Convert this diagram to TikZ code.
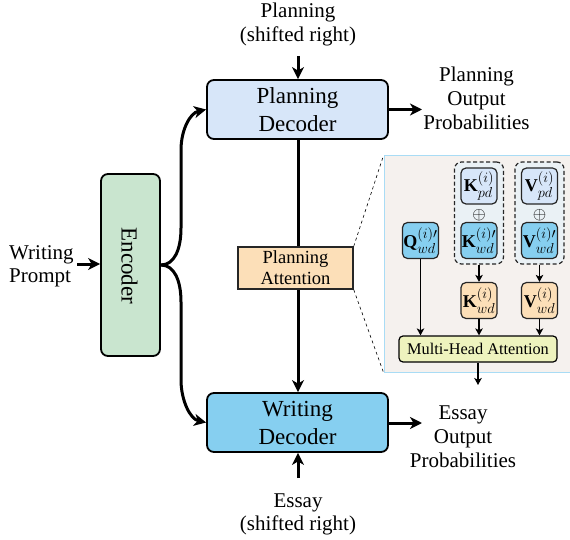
\documentclass[tikz,border=0pt]{standalone}
\usepackage{fontspec}
\setmainfont{Liberation Serif}
\usetikzlibrary{arrows.meta}
\DeclareMathSizes{18}{18}{14}{11}
\definecolor{pdc}{HTML}{D7E6F9}
\definecolor{wdc}{HTML}{86CFF0}
\definecolor{enc}{HTML}{C9E5CF}
\definecolor{atc}{HTML}{FCDFB8}
\definecolor{mhc}{HTML}{EEF3BE}
\definecolor{insc}{HTML}{F5F1EE}
\definecolor{insb}{HTML}{A9DCF5}
\definecolor{grpc}{HTML}{EAF1F5}
\tikzset{
 x=1pt,y=-1pt,
 big/.style={draw=black,line width=1.8pt,rounded corners=7pt,minimum width=181pt,minimum height=59pt,inner sep=0pt,align=center,font=\fontsize{23}{28}\selectfont},
 lbl/.style={align=center,inner sep=0pt,font=\fontsize{21}{24}\selectfont},
 small/.style={draw=black!85,line width=1.2pt,rounded corners=5pt,minimum width=36pt,minimum height=36pt,inner sep=0pt,font=\fontsize{18}{20}\selectfont},
 grp/.style={draw=black!85,dash pattern=on 4pt off 2.5pt,line width=1.2pt,rounded corners=7pt,fill=grpc,minimum width=49pt,minimum height=102pt,inner sep=0pt},
 thick arr/.style={line width=3pt,-{Stealth[length=12pt,width=12pt,inset=3.5pt]}},
 thin arr/.style={line width=1.3pt,-{Stealth[length=7pt,width=7.5pt,inset=1.8pt]}},
}
\begin{document}
\begin{tikzpicture}
\useasboundingbox (0,0) rectangle (570,540);
% inset
\node[draw=insb,line width=1pt,fill=insc,minimum width=186pt,minimum height=216pt,inner sep=0pt] (inset) at (477,264) {};
\node[grp] (g1) at (479,213) {};
\node[grp] (g2) at (539.5,213) {};
% main boxes
\node[big,fill=pdc] (pd) at (297.5,109.5) {\raisebox{-1.2pt}{Planning}\\\raisebox{-1.2pt}{Decoder}};
\node[big,fill=wdc] (wd) at (297.5,422.5) {\raisebox{-1.2pt}{Writing}\\\raisebox{-1.2pt}{Decoder}};
\node[draw=black,line width=1.8pt,rounded corners=7pt,fill=enc,minimum width=59pt,minimum height=182pt,inner sep=0pt] (en) at (130.5,265) {};
\node[rotate=-90,font=\fontsize{23}{25}\selectfont,inner sep=0pt] (entext) at (129.5,266) {Encoder};
\node[draw=black!85,line width=1.5pt,fill=atc,minimum width=115pt,minimum height=42pt,inner sep=0pt,align=center,font=\fontsize{18.5}{21}\selectfont] (pa) at (295.5,268) {\raisebox{-0.8pt}{Planning}\\\raisebox{-0.8pt}{Attention}};
% labels
\node[lbl] (pin) at (298,24) {Planning\\(shifted right)};
\node[lbl] (pout) at (476.5,98) {Planning\\Output\\Probabilities};
\node[lbl] (wout) at (463,437) {Essay\\Output\\Probabilities};
\node[lbl,font=\fontsize{21}{23}\selectfont] (win) at (298,514.5) {Essay\\(shifted right)};
\node[lbl,font=\fontsize{21}{23}\selectfont,align=left,anchor=west] (wp) at (9,266.5) {Writing\\Prompt};
% main arrows
\coordinate (pinE) at (298,56);
\coordinate (winE) at (298,478);
\coordinate (poutE) at (388,109.5);
\coordinate (poutF) at (422,109.5);
\coordinate (woutE) at (388,423);
\coordinate (woutF) at (422,423);
\coordinate (wpE) at (77,264);
\draw[thick arr] (pinE) -- (pd.north-|pinE);
\draw[thick arr] (winE) -- (wd.south-|winE);
\draw[thick arr] (poutE) -- (poutF);
\draw[thick arr] (woutE) -- (woutF);
\draw[thick arr] (wpE) -- (en.west|-wpE);
\draw[line width=3pt] (pd.south-|pinE) -- (pa.north-|pinE);
\draw[thick arr] (pa.south-|pinE) -- (wd.north-|pinE);
\draw[thick arr] (en.east) .. controls (174,265) and (181,250) .. (181,228) -- (181,150) .. controls (181,130) and (190,113) .. (pd.west);
\draw[thick arr] (en.east) .. controls (174,265) and (181,280) .. (181,302) -- (181,380) .. controls (181,400) and (190,419) .. (wd.west);
% zoom lines
\draw[dashed,line width=0.6pt] (pa.north east) -- (inset.north west);
\draw[dashed,line width=0.6pt] (pa.south east) -- (inset.south west);
% inner
\node[small,fill=pdc] (kp) at (479,186) {$\mathbf{K}_{pd}^{(i)}$};
\node[small,fill=pdc] (vp) at (539.5,186) {$\mathbf{V}_{pd}^{(i)}$};
\node[small,fill=wdc] (kw) at (479,240.5) {$\mathbf{K}_{wd}^{(i)\prime}$};
\node[small,fill=wdc] (vw) at (539.5,240.5) {$\mathbf{V}_{wd}^{(i)\prime}$};
\node[small,fill=wdc] (qw) at (420.5,240.5) {$\mathbf{Q}_{wd}^{(i)\prime}$};
\node[small,fill=atc] (ko) at (479,300.5) {$\mathbf{K}_{wd}^{(i)}$};
\node[small,fill=atc] (vo) at (539.5,300.5) {$\mathbf{V}_{wd}^{(i)}$};
\node[inner sep=0pt,font=\fontsize{18}{20}\selectfont] (op1) at (479,215) {$\oplus$};
\node[inner sep=0pt,font=\fontsize{18}{20}\selectfont] (op2) at (539.5,215) {$\oplus$};
\node[draw=black,line width=1.2pt,rounded corners=4pt,fill=mhc,minimum width=158pt,minimum height=26pt,inner sep=0pt,font=\fontsize{16.3}{18}\selectfont] (mh) at (478,349) {Multi-Head Attention};
\coordinate (mhE) at (478,385);
\draw[thin arr] (qw) -- (mh.north-|qw);
\draw[thin arr] (g1.south) -- (ko.north);
\draw[thin arr] (g2.south) -- (vo.north);
\draw[thin arr] (ko) -- (mh.north-|ko);
\draw[thin arr] (vo) -- (mh.north-|vo);
\draw[thin arr] (mh.south-|mhE) -- (mhE);
\end{tikzpicture}
\end{document}
